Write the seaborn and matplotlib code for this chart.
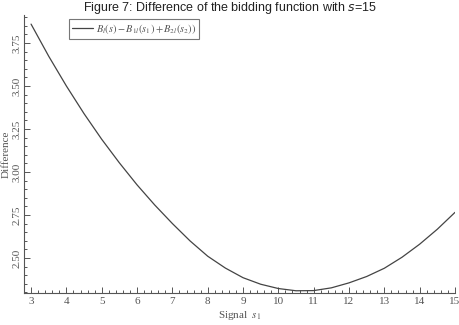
import numpy as np
import pandas as pd
import matplotlib
matplotlib.use("Agg")
import matplotlib.pyplot as plt
from matplotlib.ticker import MultipleLocator
import seaborn as sns

# values
signal = [3.0, 3.5, 4.0, 4.5, 5.0, 5.5, 6.0, 6.5, 7.0, 7.5, 8.0, 8.5, 9.0,
          9.5, 10.0, 10.5, 11.0, 11.5, 12.0, 12.5, 13.0, 13.5, 14.0, 14.5, 15.0]
difference = [3.86, 3.673, 3.50, 3.339, 3.19, 3.053, 2.925, 2.808, 2.70, 2.599,
              2.51, 2.441, 2.385, 2.347, 2.322, 2.309, 2.31, 2.326, 2.355, 2.392,
              2.44, 2.504, 2.58, 2.667, 2.765]
series_label = r"$B_l(s) - B_{1l}(s_1) + B_{2l}(s_2))$"

df = pd.DataFrame({"Signal": signal, "Difference": difference})

sns.set_style("ticks")
plt.rcParams["font.family"] = ["Liberation Serif", "DejaVu Serif"]
plt.rcParams["mathtext.fontset"] = "stix"

grey = "#555555"
fig = plt.figure(figsize=(4.6, 3.25), dpi=100)
ax = fig.add_axes([24 / 460, 32 / 325, 431 / 460, 278 / 325])

sns.lineplot(data=df, x="Signal", y="Difference", color="#444444", linewidth=0.9,
             label=series_label, ax=ax)

ax.set_xlim(2.8, 15.0)
ax.set_ylim(2.296, 3.913)
ax.xaxis.set_major_locator(MultipleLocator(1))
ax.xaxis.set_minor_locator(MultipleLocator(0.2))
ax.yaxis.set_major_locator(MultipleLocator(0.25))
ax.yaxis.set_minor_locator(MultipleLocator(0.05))
ax.yaxis.set_major_formatter(matplotlib.ticker.FormatStrFormatter("%.2f"))

ax.tick_params(which="both", direction="in", colors=grey, labelsize=8, width=0.7)
ax.tick_params(which="major", length=4)
ax.tick_params(which="minor", length=2)
ax.tick_params(axis="y", labelrotation=90, pad=2)
for lab in ax.get_yticklabels():
    lab.set_va("center")
ax.tick_params(axis="x", pad=3)

for side in ["top", "right"]:
    ax.spines[side].set_visible(False)
for side in ["left", "bottom"]:
    ax.spines[side].set_color(grey)
    ax.spines[side].set_linewidth(0.8)

ax.set_xlabel(r"Signal  $s_1$", fontsize=8, color=grey, labelpad=2)
ax.set_ylabel("Difference", fontsize=8, color=grey, labelpad=1)

leg = ax.legend(loc="upper left", bbox_to_anchor=(0.104, 0.986), borderaxespad=0,
                fontsize=7.5, frameon=True, fancybox=False, handlelength=2.0,
                handletextpad=0.3, borderpad=0.3)
leg.get_frame().set_edgecolor(grey)
leg.get_frame().set_linewidth(0.8)
for t in leg.get_texts():
    t.set_color(grey)

fig.text(0.5, 1 - 11 / 325, "Figure 7: Difference of the bidding function with $s$=15",
         ha="center", va="baseline", fontsize=9, color="#222222",
         family=["Liberation Sans", "DejaVu Sans"], math_fontfamily="dejavusans")

fig.savefig("out.png", dpi=100)
